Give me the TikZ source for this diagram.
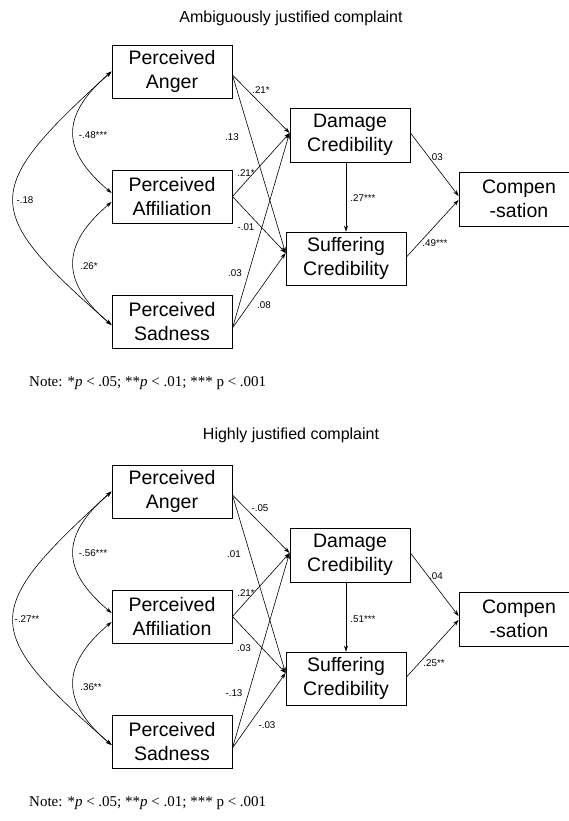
\documentclass[tikz,border=0pt]{standalone}
\usepackage{fontspec}
\setmainfont{Liberation Sans}
\newfontfamily\notefont{Liberation Serif}
\usetikzlibrary{arrows.meta}
\tikzset{
  varbox/.style={draw, line width=0.9pt, minimum width=120pt, minimum height=53pt, inner sep=0pt, align=center, font=\fontsize{19.5}{24}\selectfont},
  rel/.style={line width=0.6pt, -{Stealth[length=6pt,width=4pt]}},
  cov/.style={line width=0.6pt, {Stealth[length=6pt,width=4pt]}-{Stealth[length=6pt,width=4pt]}},
  coef/.style={font=\fontsize{9.8}{11}\selectfont, inner sep=0pt},
  ttl/.style={font=\fontsize{16}{19}\selectfont, inner sep=0pt},
  notetext/.style={font=\notefont\fontsize{15}{17}\selectfont, anchor=west, inner sep=0pt},
}
\begin{document}
\begin{tikzpicture}[x=1pt,y=-1pt]
\useasboundingbox (0,0) rectangle (569,821);
% ---------------- top panel ----------------
\node[ttl] (t1) at (291,18) {Ambiguously justified complaint};
\node[varbox] (ang1) at (172,71.5) {Perceived\\Anger};
\node[varbox] (aff1) at (172,196.5) {Perceived\\Affiliation};
\node[varbox] (sad1) at (172,321.5) {Perceived\\Sadness};
\node[varbox, minimum height=54pt] (dam1) at (350,135) {Damage\\Credibility};
\node[varbox] (suf1) at (346,258.5) {Suffering\\Credibility};
\node[varbox, minimum height=54pt] (com1) at (519,199) {Compen\\-sation};
\draw[rel] ([yshift=-3.5pt]ang1.east) -- ([yshift=2pt]dam1.west);
\draw[rel] ([yshift=-3.5pt]ang1.east) -- ([yshift=5.5pt]suf1.west);
\draw[rel] (aff1.east) -- ([yshift=2pt]dam1.west);
\draw[rel] (aff1.east) -- ([yshift=5.5pt]suf1.west);
\draw[rel] ([yshift=-6.5pt]sad1.east) -- ([yshift=2pt]dam1.west);
\draw[rel] ([yshift=-6.5pt]sad1.east) -- ([yshift=5.5pt]suf1.west);
\draw[rel] (dam1.south -| suf1.north) -- (suf1.north);
\draw[rel] ([yshift=2pt]dam1.east) -- ([yshift=3pt]com1.west);
\draw[rel] ([yshift=1.5pt]suf1.east) -- ([yshift=-1pt]com1.west);
\draw[cov] (ang1.west) .. controls +(-51,44) and +(-51,-43) .. ([yshift=3.5pt]aff1.west);
\draw[cov] ([yshift=-5.5pt]aff1.west) .. controls +(-51,43) and +(-51,-43) .. ([yshift=-3.5pt]sad1.west);
\draw[cov] (ang1.west) .. controls +(-131,119) and +(-131,-115) .. ([yshift=-3.5pt]sad1.west);
\node[coef] (a1) at (261,90) {.21*};
\node[coef] (a2) at (232,137) {.13};
\node[coef] (a3) at (246,173) {.21*};
\node[coef] (a4) at (246,227) {-.01};
\node[coef] (a5) at (235,273) {.03};
\node[coef] (a6) at (264,305) {.08};
\node[coef] (a7) at (363,198) {.27***};
\node[coef] (a8) at (436,157) {.03};
\node[coef] (a9) at (435,243) {.49***};
\node[coef] (a10) at (93,135) {-.48***};
\node[coef] (a11) at (89,266) {.26*};
\node[coef] (a12) at (25,200) {-.18};
\node[notetext] (n1) at (29,383) {Note: *\textit{p} < .05; **\textit{p} < .01; *** p < .001};
% ---------------- bottom panel ----------------
\begin{scope}[shift={(0,420)}]
\node[ttl] (t2) at (291,15) {Highly justified complaint};
\node[varbox] (ang2) at (172,71.5) {Perceived\\Anger};
\node[varbox] (aff2) at (172,196.5) {Perceived\\Affiliation};
\node[varbox] (sad2) at (172,321.5) {Perceived\\Sadness};
\node[varbox, minimum height=54pt] (dam2) at (350,135) {Damage\\Credibility};
\node[varbox] (suf2) at (346,258.5) {Suffering\\Credibility};
\node[varbox, minimum height=54pt] (com2) at (519,199) {Compen\\-sation};
\draw[rel] ([yshift=-3.5pt]ang2.east) -- ([yshift=2pt]dam2.west);
\draw[rel] ([yshift=-3.5pt]ang2.east) -- ([yshift=5.5pt]suf2.west);
\draw[rel] (aff2.east) -- ([yshift=2pt]dam2.west);
\draw[rel] (aff2.east) -- ([yshift=5.5pt]suf2.west);
\draw[rel] ([yshift=-6.5pt]sad2.east) -- ([yshift=2pt]dam2.west);
\draw[rel] ([yshift=-6.5pt]sad2.east) -- ([yshift=5.5pt]suf2.west);
\draw[rel] (dam2.south -| suf2.north) -- (suf2.north);
\draw[rel] ([yshift=2pt]dam2.east) -- ([yshift=3pt]com2.west);
\draw[rel] ([yshift=1.5pt]suf2.east) -- ([yshift=-1pt]com2.west);
\draw[cov] (ang2.west) .. controls +(-51,44) and +(-51,-43) .. ([yshift=3.5pt]aff2.west);
\draw[cov] ([yshift=-5.5pt]aff2.west) .. controls +(-51,43) and +(-51,-43) .. ([yshift=-3.5pt]sad2.west);
\draw[cov] (ang2.west) .. controls +(-131,119) and +(-131,-115) .. ([yshift=-3.5pt]sad2.west);
\node[coef] (b1) at (260,88) {-.05};
\node[coef] (b2) at (234,134) {.01};
\node[coef] (b3) at (246,173) {.21*};
\node[coef] (b4) at (244,228) {.03};
\node[coef] (b5) at (234,273) {-.13};
\node[coef] (b6) at (267,305) {-.03};
\node[coef] (b7) at (363,199) {.51***};
\node[coef] (b8) at (436,156) {.04};
\node[coef] (b9) at (434,243) {.25**};
\node[coef] (b10) at (93,133) {-.56***};
\node[coef] (b11) at (91,267) {.36**};
\node[coef] (b12) at (27,199) {-.27**};
\node[notetext] (n2) at (29,383) {Note: *\textit{p} < .05; **\textit{p} < .01; *** p < .001};
\end{scope}
\end{tikzpicture}
\end{document}
